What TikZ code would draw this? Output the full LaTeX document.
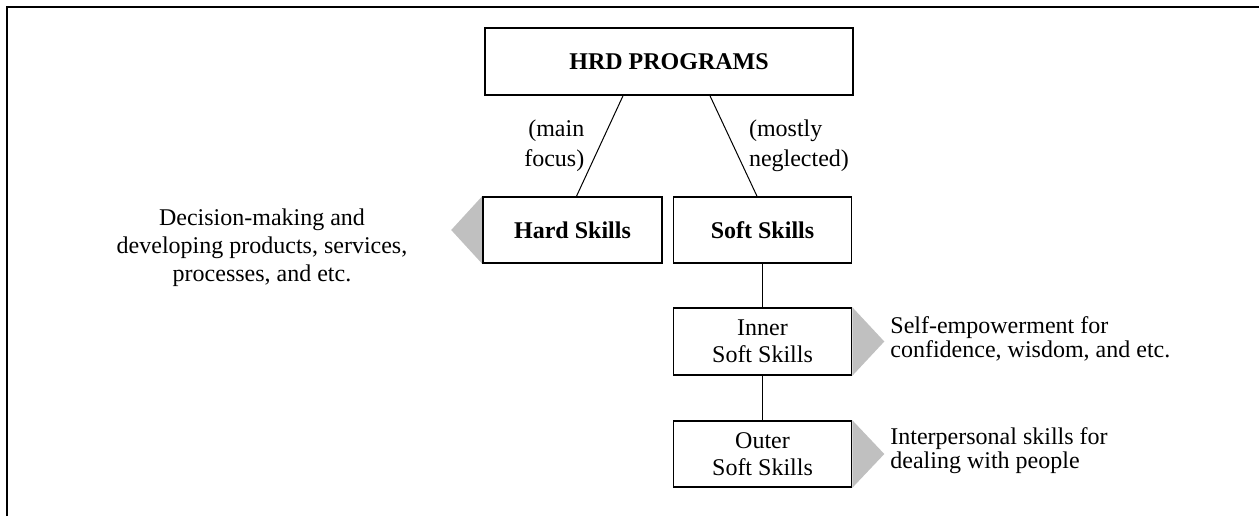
\documentclass[tikz,border=0pt]{standalone}
\usepackage{fontspec}
\setmainfont{Liberation Serif}
\usetikzlibrary{positioning,calc}
\definecolor{arrowgray}{RGB}{192,192,192}
\pgfdeclarelayer{background}
\pgfsetlayers{background,main}

\begin{document}
\begin{tikzpicture}[x=0.5pt, y=-0.5pt,
    box/.style={rectangle, draw, fill=white, line width=0.8pt, minimum width=#1, minimum height=33pt, inner sep=2pt, align=center, font=\fontsize{12}{13.5}\selectfont},
    link/.style={line width=0.5pt},
    txt/.style={inner sep=0pt, font=\fontsize{12}{#1}\selectfont},
    tri/.style={fill=arrowgray}
]
\useasboundingbox (0,0) rectangle (1259,516);
\draw[line width=1pt] (7,516) -- (7,7) -- (1259,7);

\node[box=184pt, minimum height=33.5pt] (hrd) at (669,61.5) {\textbf{HRD PROGRAMS}};
\node[box=89.5pt] (hard) at (572.5,230) {\textbf{Hard Skills}};
\node[box=89pt] (soft) at (762.5,230) {\textbf{Soft Skills}};
\node[box=89pt, minimum height=33.5pt] (inner) at (762.5,341.5) {Inner\\Soft Skills};
\node[box=89pt] (outer) at (762.5,454) {Outer\\Soft Skills};

% grey pointers behind the boxes
\begin{pgfonlayer}{background}
\fill[tri] (hard.north west) -- (hard.south west) -- ($(hard.west)+(-31,0)$) -- cycle;
\fill[tri] (inner.north east) -- (inner.south east) -- ($(inner.east)+(32,0)$) -- cycle;
\fill[tri] (outer.north east) -- (outer.south east) -- ($(outer.east)+(32,0)$) -- cycle;
\end{pgfonlayer}

\draw[link] ([xshift=-23pt]hrd.south) -- ([xshift=2pt]hard.north)
    node[midway, left=7.5pt, align=right, txt=15pt] (mainlbl) {(main\\focus)};
\draw[link] ([xshift=20.5pt]hrd.south) -- ([xshift=-2.75pt]soft.north)
    node[midway, right=7.5pt, align=left, txt=15pt] (mostlbl) {(mostly\\neglected)};
\draw[link] (soft) -- (inner);
\draw[link] (inner) -- (outer);

\node[txt=14pt, align=center] (harddesc) at (262,248) {Decision-making and\\developing products, services,\\processes, and etc.};
\node[txt=12pt, align=left, anchor=west] (innerdesc) at (890,339) {Self-empowerment for\\confidence, wisdom, and etc.};
\node[txt=12pt, align=left, anchor=west] (outerdesc) at (890,451) {Interpersonal skills for\\dealing with people};
\end{tikzpicture}
\end{document}
